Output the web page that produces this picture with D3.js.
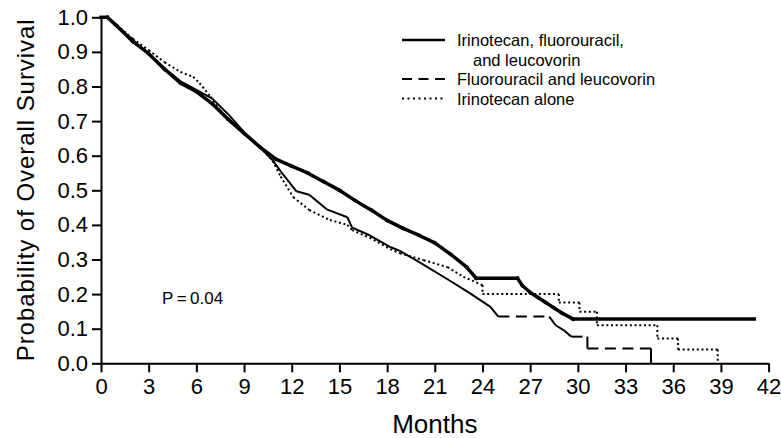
<!DOCTYPE html>
<html>
<head>
<meta charset="utf-8">
<script src="https://cdn.jsdelivr.net/npm/d3@7"></script>
<style>
  body { margin: 0; background: #fff; }
  svg text { font-family: "Liberation Sans", Arial, sans-serif; fill: #000; }
</style>
</head>
<body>
<div id="chart"></div>
<script>
// Kaplan-Meier curves, [month, survival probability]
const ifl = [[0,1],[0.4,1],[1,0.975],[2,0.93],[3,0.895],[4,0.85],[5,0.81],[6,0.785],[7,0.75],[8,0.705],[9,0.665],[10,0.625],[11,0.59],[12,0.57],[13,0.55],[14,0.525],[15,0.5],[16,0.47],[17,0.443],[18,0.413],[19,0.39],[20,0.37],[21,0.348],[22,0.315],[23,0.278],[23.6,0.246],[26.2,0.246],[26.5,0.225],[27,0.205],[27.5,0.19],[28,0.175],[28.5,0.16],[29,0.145],[29.7,0.128],[41.1,0.128]];
const fuLv = [[0,1],[0.4,1],[1,0.975],[2,0.935],[3,0.893],[4,0.853],[5,0.815],[6,0.79],[7,0.765],[8,0.72],[9,0.668],[10,0.625],[10.8,0.587],[11.3,0.555],[11.9,0.52],[12.3,0.497],[13.1,0.487],[14.2,0.445],[15.5,0.422],[15.8,0.392],[16.9,0.37],[18.2,0.336],[18.8,0.325],[20.1,0.29],[21.9,0.24],[23.2,0.203],[24.5,0.163],[25,0.135],[28.2,0.135],[28.6,0.11],[29.1,0.096],[29.6,0.077],[30.6,0.077],[30.6,0.043],[34.6,0.043],[34.6,0]];
const irinotecan = [[0,1],[0.4,1],[1,0.977],[2,0.938],[3,0.905],[4,0.87],[5,0.842],[5.8,0.828],[6.2,0.81],[6.9,0.77],[7.5,0.73],[8.1,0.70],[9.2,0.657],[10,0.625],[10.8,0.585],[11.3,0.54],[12.1,0.48],[13.1,0.443],[14.4,0.414],[15.5,0.40],[15.8,0.385],[16.9,0.363],[18.2,0.33],[18.8,0.318],[20.3,0.298],[21.8,0.278],[22.8,0.25],[24,0.226],[24,0.2],[28.8,0.2],[28.8,0.176],[30.1,0.176],[30.1,0.149],[31.2,0.149],[31.2,0.11],[35,0.11],[35,0.072],[36.3,0.072],[36.3,0.04],[38.8,0.04],[38.8,0]];

const xTicks = d3.range(0, 43, 3);
const yTicks = d3.range(0, 1.01, 0.1);
const legendLabels = [["Irinotecan, fluorouracil,", "and leucovorin"], ["Fluorouracil and leucovorin"], ["Irinotecan alone"]];

const width = 781, height = 438;
const margin = { left: 101, right: 12, top: 17, bottom: 75 };

const svg = d3.select("#chart").append("svg")
  .attr("width", width)
  .attr("height", height);

const x = d3.scaleLinear().domain([0, 42]).range([margin.left, 768.6]);
const y = d3.scaleLinear().domain([0, 1]).range([363.3, margin.top + 0.3]);

// axes
const xAxis = svg.append("g")
  .attr("transform", `translate(0,${y(0)})`)
  .call(d3.axisBottom(x).tickValues(xTicks).tickSize(9).tickSizeOuter(0).tickPadding(6.5));
const yAxis = svg.append("g")
  .attr("transform", `translate(${x(0)},0)`)
  .call(d3.axisLeft(y).tickValues(yTicks).tickSize(9).tickSizeOuter(0).tickPadding(4).tickFormat(d3.format(".1f")));

[xAxis, yAxis].forEach(g => {
  g.select(".domain").attr("stroke", "#000").attr("stroke-width", 2);
  g.selectAll(".tick line").attr("stroke", "#000").attr("stroke-width", 2);
  g.selectAll(".tick text").style("font-size", "22px").style("font-family", "Liberation Sans, Arial, sans-serif");
});

svg.append("text")
  .attr("transform", `translate(34,${(y(0) + y(1)) / 2}) rotate(-90)`)
  .attr("text-anchor", "middle")
  .attr("textLength", 342)
  .attr("lengthAdjust", "spacing")
  .style("font-size", "24px")
  .text("Probability of Overall Survival");

svg.append("text")
  .attr("x", (x(0) + x(42)) / 2)
  .attr("y", 433)
  .attr("text-anchor", "middle")
  .style("font-size", "26px")
  .text("Months");

svg.append("text")
  .attr("x", 162)
  .attr("y", 304)
  .style("font-size", "17px")
  .text("P\u2009=\u20090.04");

// curves: each step drawn on its own; the long-dash pattern only shows on flat stretches
const series = [
  { data: ifl, width: 3.5, dash: null, flatOnly: false },
  { data: fuLv, width: 2, dash: "11,6.5", flatOnly: true },
  { data: irinotecan, width: 2, dash: "2,2.7", flatOnly: false }
];
const line = d3.line().x(d => x(d[0])).y(d => y(d[1]));

series.forEach(s => {
  svg.append("g")
    .selectAll("path")
    .data(d3.pairs(s.data))
    .join("path")
    .attr("d", d => line(d))
    .attr("fill", "none")
    .attr("stroke", "#000")
    .attr("stroke-width", s.width)
    .attr("stroke-linecap", s.dash ? "butt" : "square")
    .attr("stroke-dasharray", d => (s.flatOnly && d[0][1] !== d[1][1]) ? null : s.dash);
});

// legend
const legend = svg.append("g").attr("transform", "translate(402,40)");
let row = 0;
series.forEach((s, i) => {
  const yy = row * 19.5;
  legend.append("line")
    .attr("x1", 0).attr("x2", 43)
    .attr("y1", yy).attr("y2", yy)
    .attr("stroke", "#000")
    .attr("stroke-width", i === 0 ? 2.5 : 2)
    .attr("stroke-dasharray", i === 1 ? "10,6.5" : (i === 2 ? "2,3.5" : null));
  legendLabels[i].forEach((t, j) => {
    legend.append("text")
      .attr("x", j === 0 ? 55 : 71)
      .attr("y", (row + j) * 19.5 + 6)
      .style("font-size", "16.5px")
      .text(t);
  });
  row += legendLabels[i].length;
});
</script>
</body>
</html>
